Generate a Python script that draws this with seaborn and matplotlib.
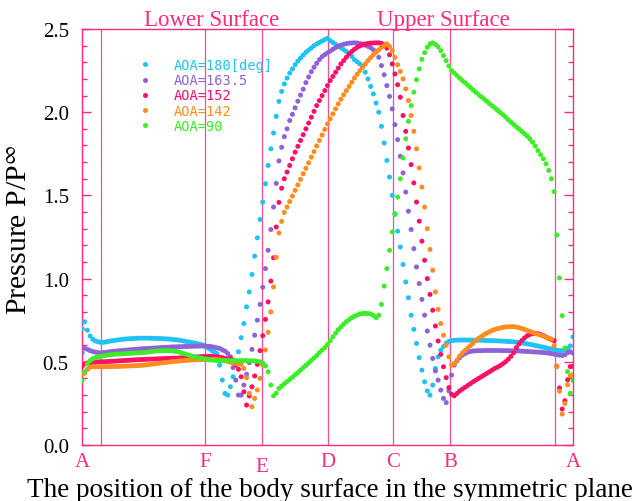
import numpy as np
import pandas as pd
import matplotlib
matplotlib.use("Agg")
import matplotlib.pyplot as plt
import matplotlib.transforms as mtransforms
from matplotlib.ticker import MultipleLocator, FormatStrFormatter
from matplotlib.font_manager import FontProperties
import seaborn as sns

# ---------------------------------------------------------------------------
# Surface pressure ratio P/P_inf along the body contour in the symmetry plane.
# Stations run A -> F -> E -> D -> C -> B -> A (normalised arc position 0..1).
# ---------------------------------------------------------------------------
n_stations = 183
station = np.linspace(0.0, 1.0, n_stations)

case_labels = ["AOA=180[deg]", "AOA=163.5", "AOA=152", "AOA=142", "AOA=90"]
case_colors = ["#1fc3f2", "#8e62d8", "#ff0f66", "#ff8c1f", "#3ded26"]

p_aoa180 = [
    0.70, 0.74, 0.69, 0.655, 0.635, 0.625, 0.62, 0.617, 0.617, 0.62,
    0.623, 0.626, 0.628, 0.631, 0.633, 0.635, 0.637, 0.638, 0.639, 0.64,
    0.641, 0.642, 0.642, 0.642, 0.642, 0.642, 0.641, 0.641, 0.640, 0.640,
    0.639, 0.638, 0.637, 0.636, 0.634, 0.632, 0.63, 0.627, 0.624, 0.621,
    0.618, 0.615, 0.612, 0.608, 0.604, 0.60, 0.59, 0.58, 0.568, 0.56,
    0.55, 0.48, 0.39, 0.31, 0.30, 0.35, 0.41, 0.48, 0.56, 0.645,
    0.73, 0.83, 0.92, 1.025, 1.135, 1.245, 1.355, 1.46, 1.57, 1.68,
    1.78, 1.875, 1.975, 2.065, 2.125, 2.17, 2.205, 2.235, 2.26, 2.285,
    2.307, 2.325, 2.343, 2.36, 2.373, 2.386, 2.4, 2.41, 2.419, 2.428,
    2.437, 2.444, 2.43, 2.419, 2.408, 2.397, 2.387, 2.376, 2.365, 2.35,
    2.335, 2.315, 2.303, 2.29, 2.275, 2.24, 2.2, 2.155, 2.11, 2.055,
    2.0, 1.915, 1.815, 1.71, 1.61, 1.5, 1.39, 1.285, 1.19, 1.085,
    0.98, 0.885, 0.78, 0.695, 0.61, 0.525, 0.45, 0.38, 0.325, 0.30,
    0.36, 0.46, 0.53, 0.57, 0.592, 0.612, 0.622, 0.627, 0.629, 0.63,
    0.631, 0.631, 0.631, 0.631, 0.63, 0.63, 0.63, 0.63, 0.629, 0.629,
    0.628, 0.628, 0.627, 0.627, 0.626, 0.625, 0.624, 0.623, 0.622, 0.621,
    0.62, 0.618, 0.616, 0.614, 0.611, 0.608, 0.605, 0.602, 0.598, 0.595,
    0.591, 0.588, 0.584, 0.58, 0.577, 0.573, 0.57, 0.567, 0.567, 0.572,
    0.58, 0.595, 0.65,
]

p_aoa163 = [
    0.553, 0.58, 0.575, 0.567, 0.562, 0.558, 0.555, 0.553, 0.555, 0.557,
    0.56, 0.562, 0.563, 0.565, 0.567, 0.568, 0.57, 0.571, 0.573, 0.574,
    0.575, 0.577, 0.578, 0.579, 0.58, 0.581, 0.582, 0.583, 0.584, 0.585,
    0.586, 0.587, 0.588, 0.589, 0.59, 0.59, 0.591, 0.591, 0.592, 0.592,
    0.593, 0.593, 0.594, 0.594, 0.595, 0.595, 0.594, 0.593, 0.591, 0.588,
    0.584, 0.58, 0.572, 0.564, 0.55, 0.53, 0.465, 0.39, 0.30, 0.30,
    0.36, 0.425, 0.495, 0.575, 0.66, 0.75, 0.845, 0.948, 1.06, 1.17,
    1.295, 1.43, 1.572, 1.707, 1.789, 1.853, 1.9, 1.95, 1.987, 2.026,
    2.066, 2.103, 2.138, 2.178, 2.212, 2.243, 2.27, 2.294, 2.316, 2.334,
    2.346, 2.357, 2.367, 2.378, 2.388, 2.396, 2.403, 2.408, 2.412, 2.415,
    2.416, 2.417, 2.416, 2.413, 2.409, 2.403, 2.396, 2.387, 2.375, 2.362,
    2.33, 2.28, 2.225, 2.16, 2.095, 2.02, 1.925, 1.835, 1.735, 1.635,
    1.52, 1.405, 1.295, 1.18, 1.07, 0.97, 0.875, 0.78, 0.685, 0.60,
    0.52, 0.445, 0.39, 0.33, 0.28, 0.255, 0.325, 0.42, 0.48, 0.505,
    0.525, 0.54, 0.55, 0.558, 0.562, 0.565, 0.566, 0.567, 0.567, 0.568,
    0.568, 0.568, 0.568, 0.568, 0.568, 0.568, 0.567, 0.567, 0.567, 0.566,
    0.566, 0.565, 0.565, 0.564, 0.563, 0.562, 0.561, 0.56, 0.559, 0.558,
    0.557, 0.556, 0.554, 0.552, 0.549, 0.546, 0.543, 0.54, 0.538, 0.542,
    0.555, 0.56, 0.553,
]

p_aoa152 = [
    0.473, 0.487, 0.492, 0.495, 0.497, 0.498, 0.5, 0.5, 0.5, 0.501,
    0.502, 0.503, 0.504, 0.505, 0.506, 0.507, 0.508, 0.509, 0.51, 0.511,
    0.512, 0.513, 0.514, 0.514, 0.515, 0.516, 0.516, 0.517, 0.518, 0.518,
    0.519, 0.52, 0.52, 0.521, 0.522, 0.522, 0.523, 0.524, 0.525, 0.526,
    0.527, 0.528, 0.529, 0.53, 0.531, 0.532, 0.533, 0.533, 0.533, 0.532,
    0.531, 0.528, 0.525, 0.52, 0.518, 0.52, 0.51, 0.48, 0.455, 0.41,
    0.32, 0.24, 0.295, 0.35, 0.415, 0.485, 0.567, 0.657, 0.755, 0.86,
    0.985, 1.125, 1.31, 1.458, 1.543, 1.60, 1.64, 1.68, 1.72, 1.76,
    1.795, 1.83, 1.865, 1.90, 1.935, 1.97, 2.005, 2.04, 2.07, 2.10,
    2.13, 2.16, 2.19, 2.215, 2.24, 2.265, 2.29, 2.31, 2.33, 2.35,
    2.365, 2.378, 2.39, 2.398, 2.405, 2.41, 2.413, 2.415, 2.416, 2.417,
    2.417, 2.414, 2.405, 2.385, 2.345, 2.29, 2.23, 2.165, 2.09, 1.98,
    1.885, 1.785, 1.685, 1.575, 1.46, 1.345, 1.225, 1.11, 1.0, 0.905,
    0.81, 0.715, 0.625, 0.545, 0.47, 0.405, 0.345, 0.305, 0.296, 0.31,
    0.325, 0.336, 0.347, 0.358, 0.369, 0.38, 0.39, 0.40, 0.41, 0.42,
    0.43, 0.44, 0.45, 0.46, 0.468, 0.477, 0.488, 0.5, 0.515, 0.533,
    0.555, 0.585, 0.607, 0.627, 0.643, 0.656, 0.664, 0.669, 0.671, 0.669,
    0.664, 0.657, 0.649, 0.641, 0.633, 0.627, 0.473, 0.343, 0.216, 0.266,
    0.392, 0.471, 0.473,
]

p_aoa142 = [
    0.423, 0.432, 0.455, 0.468, 0.47, 0.47, 0.47, 0.47, 0.47, 0.471,
    0.471, 0.471, 0.472, 0.472, 0.473, 0.473, 0.474, 0.475, 0.475, 0.476,
    0.477, 0.478, 0.479, 0.48, 0.482, 0.484, 0.486, 0.488, 0.49, 0.492,
    0.494, 0.496, 0.498, 0.5, 0.502, 0.503, 0.505, 0.506, 0.508, 0.509,
    0.51, 0.511, 0.512, 0.512, 0.513, 0.513, 0.514, 0.514, 0.514, 0.514,
    0.513, 0.512, 0.51, 0.506, 0.502, 0.497, 0.493, 0.49, 0.488, 0.485,
    0.46, 0.405, 0.31, 0.23, 0.28, 0.331, 0.40, 0.481, 0.571, 0.677,
    0.80, 0.95, 1.128, 1.274, 1.344, 1.398, 1.43, 1.463, 1.496, 1.53,
    1.563, 1.596, 1.63, 1.663, 1.696, 1.73, 1.763, 1.797, 1.83, 1.863,
    1.897, 1.93, 1.96, 1.99, 2.02, 2.05, 2.078, 2.105, 2.13, 2.155,
    2.18, 2.205, 2.228, 2.25, 2.27, 2.29, 2.31, 2.328, 2.345, 2.36,
    2.375, 2.39, 2.40, 2.41, 2.395, 2.37, 2.33, 2.285, 2.245, 2.2,
    2.14, 2.07, 1.98, 1.885, 1.78, 1.665, 1.55, 1.43, 1.30, 1.175,
    1.05, 0.92, 0.815, 0.73, 0.66, 0.60, 0.53, 0.48, 0.49, 0.51,
    0.535, 0.553, 0.568, 0.583, 0.597, 0.612, 0.628, 0.641, 0.652, 0.663,
    0.672, 0.68, 0.688, 0.694, 0.699, 0.703, 0.707, 0.709, 0.711, 0.711,
    0.711, 0.709, 0.705, 0.70, 0.695, 0.689, 0.683, 0.677, 0.671, 0.665,
    0.66, 0.655, 0.648, 0.642, 0.636, 0.597, 0.471, 0.323, 0.186, 0.25,
    0.362, 0.416, 0.423,
]

p_aoa90 = [
    0.387, 0.44, 0.487, 0.507, 0.518, 0.525, 0.53, 0.533, 0.536, 0.539,
    0.541, 0.543, 0.545, 0.546, 0.547, 0.548, 0.549, 0.55, 0.551, 0.552,
    0.553, 0.554, 0.555, 0.556, 0.558, 0.56, 0.562, 0.564, 0.565, 0.566,
    0.567, 0.567, 0.567, 0.566, 0.564, 0.562, 0.558, 0.553, 0.548, 0.543,
    0.538, 0.533, 0.529, 0.525, 0.522, 0.519, 0.516, 0.513, 0.511, 0.509,
    0.508, 0.507, 0.507, 0.507, 0.507, 0.507, 0.507, 0.507, 0.507, 0.507,
    0.507, 0.507, 0.506, 0.506, 0.505, 0.503, 0.50, 0.492, 0.475, 0.44,
    0.36, 0.296, 0.311, 0.34, 0.354, 0.368, 0.381, 0.394, 0.407, 0.422,
    0.435, 0.45, 0.465, 0.478, 0.493, 0.508, 0.523, 0.538, 0.555, 0.57,
    0.585, 0.604, 0.626, 0.65, 0.672, 0.693, 0.71, 0.726, 0.741, 0.753,
    0.765, 0.774, 0.781, 0.787, 0.79, 0.791, 0.79, 0.787, 0.779, 0.765,
    0.78, 0.845, 0.955, 1.06, 1.17, 1.28, 1.385, 1.49, 1.60, 1.725,
    1.84, 1.945, 2.04, 2.12, 2.195, 2.26, 2.318, 2.358, 2.39, 2.41,
    2.416, 2.407, 2.393, 2.37, 2.34, 2.31, 2.278, 2.25, 2.235, 2.22,
    2.205, 2.19, 2.178, 2.163, 2.148, 2.133, 2.119, 2.106, 2.093, 2.08,
    2.066, 2.052, 2.039, 2.026, 2.012, 1.998, 1.985, 1.971, 1.955, 1.94,
    1.926, 1.912, 1.899, 1.885, 1.871, 1.856, 1.84, 1.82, 1.797, 1.77,
    1.745, 1.72, 1.69, 1.65, 1.60, 1.523, 1.262, 1.004, 0.777, 0.583,
    0.441, 0.311, 0.387,
]

# Body landmarks along the contour and the section dividers
landmark_pos = [0.0, 0.25, 0.367, 0.5, 0.633, 0.75, 1.0]
landmark_names = ["A", "F", "E", "D", "C", "B", "A"]
landmark_drop = [0, 0, 1, 0, 0, 0, 0]
divider_pos = [0.039, 0.25, 0.367, 0.5, 0.633, 0.75, 0.963]
surface_names = ["Lower Surface", "Upper Surface"]
surface_centers = [0.265, 0.737]

series = [p_aoa180, p_aoa163, p_aoa152, p_aoa142, p_aoa90]
frames = [
    pd.DataFrame({"station": station, "pressure": vals, "case": lab})
    for vals, lab in zip(series, case_labels)
]
df = pd.concat(frames, ignore_index=True)

sns.set_theme(style="white")
plt.rcParams["font.family"] = ["Liberation Serif", "DejaVu Serif"]
plt.rcParams["mathtext.fontset"] = "stix"

pink = "#ff2a7c"
line_pink = "#ff4a90"

fig = plt.figure(figsize=(6.38, 5.02), dpi=100)
ax = fig.add_axes([82 / 638, 56 / 502, 491 / 638, 416 / 502])

for xv in divider_pos:
    ax.axvline(xv, color=line_pink, lw=0.9, zorder=1)

sns.scatterplot(
    data=df, x="station", y="pressure", hue="case", hue_order=case_labels,
    palette=case_colors, s=13, linewidth=0, ax=ax, zorder=3, legend=True,
)

ax.set_xlim(0, 1)
ax.set_ylim(0, 2.5)
ax.set_xticks([])
ax.yaxis.set_major_locator(MultipleLocator(0.5))
ax.yaxis.set_minor_locator(MultipleLocator(0.1))
ax.yaxis.set_major_formatter(FormatStrFormatter("%.1f"))
ax.tick_params(axis="y", which="both", direction="in", left=True, right=True,
               color=pink, width=1.0, labelsize=15, pad=9.5, labelcolor="black")
ax.tick_params(axis="y", which="major", length=6.5)
ax.tick_params(axis="y", which="minor", length=3.6)
for sp in ax.spines.values():
    sp.set_color(pink)
    sp.set_linewidth(1.0)
    sp.set_visible(True)

ax.set_xlabel("The position of the body surface in the symmetric plane",
              fontsize=19.5, color="black")
ax.xaxis.set_label_coords(0.505, -0.078)
ax.set_ylabel(r"Pressure P/P$^{\infty}$", fontsize=21.5, color="black")
ax.yaxis.set_label_coords(-0.099, 0.52)

xdata_yaxes = mtransforms.blended_transform_factory(ax.transData, ax.transAxes)
for xv, name, drop in zip(landmark_pos, landmark_names, landmark_drop):
    ax.text(xv, -0.051 - 0.011 * drop, name, transform=xdata_yaxes,
            ha="center", va="baseline", fontsize=15, color=pink)
for xv, name in zip(surface_centers, surface_names):
    ax.text(xv, 1.010, name, transform=xdata_yaxes, ha="center",
            va="baseline", fontsize=16.5, color=pink)

handles, labels = ax.get_legend_handles_labels()
ax.legend(
    handles, labels, loc="upper left", bbox_to_anchor=(0.1147, 0.930),
    frameon=False, prop=FontProperties(family="DejaVu Sans Mono", size=9.8),
    labelcolor=case_colors, handlelength=1.0, handletextpad=1.62,
    labelspacing=0.085, borderpad=0.0, borderaxespad=0.0,
)

fig.savefig("out.png", dpi=100)
